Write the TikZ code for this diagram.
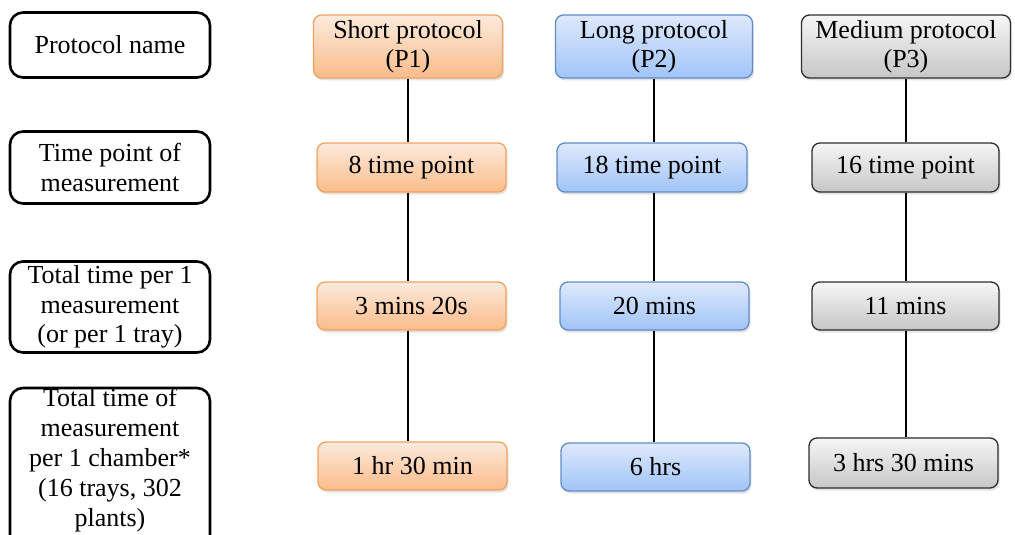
\documentclass[tikz,border=0pt]{standalone}
\usepackage{fontspec}
\setmainfont{Liberation Serif}
\usetikzlibrary{shadows}
\definecolor{orT}{RGB}{253,234,220}
\definecolor{orB}{RGB}{250,188,138}
\definecolor{orD}{RGB}{242,162,96}
\definecolor{blT}{RGB}{222,233,252}
\definecolor{blB}{RGB}{160,196,248}
\definecolor{blD}{RGB}{98,140,200}
\definecolor{grT}{RGB}{246,246,246}
\definecolor{grB}{RGB}{198,198,198}
\definecolor{grD}{RGB}{45,45,45}
\tikzset{
  base/.style={rounded corners=8pt, inner sep=0pt, align=center,
    font=\rmfamily\fontsize{26}{28.5}\selectfont,
    drop shadow={shadow xshift=1.5pt, shadow yshift=-2.5pt, opacity=0.22}},
  orbox/.style={base, draw=orD, line width=1.3pt, top color=orT, bottom color=orB},
  blbox/.style={base, draw=blD, line width=1.3pt, top color=blT, bottom color=blB},
  grbox/.style={base, draw=grD, line width=1.3pt, top color=grT, bottom color=grB},
  leftbox/.style={rounded corners=13pt, draw=black, line width=2.6pt, inner sep=0pt,
    align=center, minimum width=200pt, font=\rmfamily\fontsize{26}{29.5}\selectfont},
  conn/.style={draw=black, line width=1.6pt}
}
\begin{document}
\begin{tikzpicture}[x=1pt, y=-1pt]
\useasboundingbox (0,0) rectangle (1015,535);
% left labels
\node[leftbox, minimum height=65pt] (L1) at (110,45) {Protocol name};
\node[leftbox, minimum height=72pt] (L2) at (110,167.5) {Time point of\\measurement};
\node[leftbox, minimum height=91pt] (L3) at (110,307) {Total time per 1\\measurement\\(or per 1 tray)};
\begin{scope}
\clip (0,0) rectangle (1015,535);
\node[leftbox, minimum height=160pt] (L4) at (110,468) {};
\end{scope}
\node[align=center, inner sep=0pt, font=\rmfamily\fontsize{26}{30}\selectfont] (L4t) at (110,460)
  {Total time of\\measurement\\per 1 chamber*\\(16 trays, 302\\plants)};
% P1
\node[orbox, minimum width=189pt, minimum height=63pt] (P1a) at (408,46.5) {Short protocol\\(P1)};
\node[orbox, minimum width=189pt, minimum height=49pt] (P1b) at (411.5,167.5) {8 time point};
\node[orbox, minimum width=189pt, minimum height=48pt] (P1c) at (411.5,306) {3 mins 20s};
\node[orbox, minimum width=189pt, minimum height=48pt] (P1d) at (412.5,466) {1 hr 30 min};
% P2
\node[blbox, minimum width=197pt, minimum height=63pt] (P2a) at (654,46.5) {Long protocol\\(P2)};
\node[blbox, minimum width=190pt, minimum height=49pt] (P2b) at (652,167.5) {18 time point};
\node[blbox, minimum width=189pt, minimum height=48pt] (P2c) at (654.5,306) {20 mins};
\node[blbox, minimum width=189pt, minimum height=48pt] (P2d) at (655.5,467) {6 hrs};
% P3
\node[grbox, minimum width=209pt, minimum height=63pt] (P3a) at (906,46.5) {Medium protocol\\(P3)};
\node[grbox, minimum width=187pt, minimum height=49pt] (P3b) at (905.5,167.5) {16 time point};
\node[grbox, minimum width=187pt, minimum height=48pt] (P3c) at (905.5,306) {11 mins};
\node[grbox, minimum width=189pt, minimum height=50pt] (P3d) at (903.5,463) {3 hrs 30 mins};
% connectors
\foreach \c in {P1,P2,P3}{
  \draw[conn] (\c a.south) -- (\c a.south |- \c b.north);
  \draw[conn] (\c a.south |- \c b.south) -- (\c a.south |- \c c.north);
  \draw[conn] (\c a.south |- \c c.south) -- (\c a.south |- \c d.north);
}
\end{tikzpicture}
\end{document}
